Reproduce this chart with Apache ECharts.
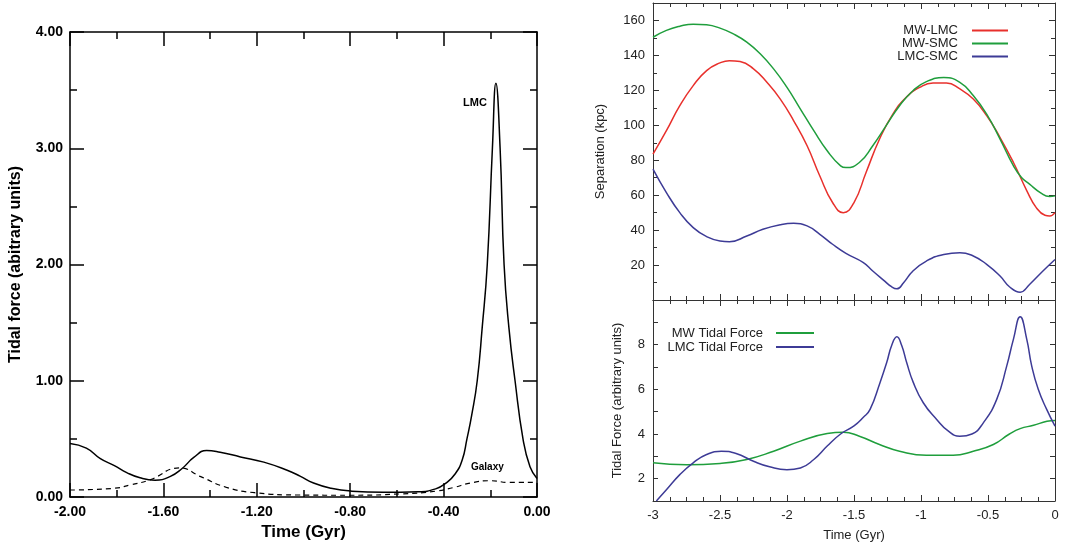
<!DOCTYPE html>
<html>
<head>
<meta charset="utf-8">
<script src="https://cdn.jsdelivr.net/npm/echarts@6/dist/echarts.min.js"></script>
<style>
html,body{margin:0;padding:0;background:#fff;}
#chart{width:1067px;height:546px;}
</style>
</head>
<body>
<div id="chart"></div>
<script>
// ---- Left panel: tidal force (arbitrary units) vs time (Gyr) ----
const lmcT = [-2.0,-1.93,-1.87,-1.81,-1.757,-1.70,-1.636,-1.572,-1.52,-1.47,-1.415,-1.357,-1.27,-1.17,-1.07,-1.015,-0.957,-0.882,-0.793,-0.658,-0.51,-0.434,-0.39,-0.35,-0.32,-0.30,-0.28,-0.256,-0.235,-0.213,-0.191,-0.176,-0.158,-0.141,-0.12,-0.094,-0.06,-0.03,0];
const lmcV = [0.46,0.42,0.33,0.27,0.21,0.165,0.145,0.175,0.245,0.34,0.40,0.385,0.345,0.30,0.23,0.18,0.12,0.075,0.05,0.04,0.045,0.07,0.12,0.2,0.32,0.5,0.7,1.0,1.45,2.0,3.0,3.56,3.0,2.0,1.45,1.0,0.5,0.26,0.16];
const galT = [-2.0,-1.81,-1.74,-1.66,-1.53,-1.44,-1.33,-1.21,-1.015,-0.808,-0.58,-0.434,-0.36,-0.285,-0.196,-0.12,0];
const galV = [0.06,0.075,0.105,0.146,0.25,0.175,0.083,0.037,0.017,0.015,0.027,0.05,0.08,0.12,0.14,0.125,0.125];

// ---- Right top: separation (kpc) ----
const mwLmcT = [-3.0,-2.9,-2.8,-2.7,-2.6,-2.5,-2.43,-2.35,-2.25,-2.15,-2.05,-1.95,-1.85,-1.755,-1.66,-1.58,-1.5,-1.41,-1.31,-1.21,-1.11,-1.01,-0.91,-0.81,-0.71,-0.61,-0.51,-0.41,-0.31,-0.21,-0.14,-0.075,-0.04,0];
const mwLmcV = [83.5,96.9,111.2,122.7,131.3,135.7,137,136.5,132.3,124.6,115,102.6,88.3,71,55.8,50,55.8,73,92,106.4,116,121.7,124.2,124.2,120.8,115,105.5,93,78.7,62.5,52.9,48.5,48.1,50];
const mwSmcT = [-3.0,-2.9,-2.8,-2.7,-2.6,-2.5,-2.4,-2.3,-2.2,-2.1,-2.0,-1.9,-1.8,-1.7,-1.6,-1.56,-1.46,-1.36,-1.26,-1.16,-1.06,-0.96,-0.83,-0.71,-0.61,-0.51,-0.41,-0.31,-0.25,-0.19,-0.11,-0.04,0];
const mwSmcV = [150.4,154.3,156.7,157.9,157.5,155.6,152.3,147.6,140.9,132.3,121.7,109.3,96.9,85.4,76.8,75.8,78.7,88.3,99.8,111.2,119.8,125,127.3,124.6,117,106.4,92.1,76.8,70.1,66.3,61.5,59.2,59.6];
const lmcSmcT = [-3.0,-2.9,-2.8,-2.7,-2.6,-2.5,-2.43,-2.3,-2.18,-2.05,-1.95,-1.85,-1.755,-1.66,-1.56,-1.43,-1.36,-1.28,-1.22,-1.18,-1.13,-1.06,-0.96,-0.83,-0.71,-0.61,-0.51,-0.41,-0.34,-0.26,-0.19,-0.09,0];
const lmcSmcV = [74.9,61.5,50,41.4,36.3,33.8,33.4,36.6,40.5,43.1,43.9,42.4,37.6,31.9,26.7,21.4,16.6,11.4,7.6,6.4,9.9,16.6,22.3,26.1,27.1,25.2,20.4,13.7,7.6,4.5,8.9,16.6,23.2];

// ---- Right bottom: tidal force (arbitrary units) ----
const mwTidT = [-3.0,-2.75,-2.5,-2.3,-2.1,-1.9,-1.7,-1.58,-1.46,-1.31,-1.16,-0.96,-0.76,-0.61,-0.46,-0.34,-0.26,-0.16,-0.06,0];
const mwTidV = [2.71,2.62,2.68,2.86,3.23,3.68,4.02,4.08,3.9,3.53,3.23,3.05,3.05,3.23,3.53,4.0,4.24,4.39,4.57,4.61];
const lmcTidT = [-2.975,-2.9,-2.8,-2.7,-2.6,-2.49,-2.38,-2.25,-2.13,-2.0,-1.9,-1.8,-1.7,-1.6,-1.5,-1.43,-1.38,-1.306,-1.256,-1.219,-1.18,-1.144,-1.107,-1.057,-0.983,-0.883,-0.8,-0.71,-0.62,-0.535,-0.435,-0.36,-0.31,-0.26,-0.211,-0.174,-0.125,-0.062,0];
const lmcTidV = [1.0,1.5,2.18,2.71,3.08,3.23,3.13,2.78,2.53,2.4,2.48,2.86,3.46,4.0,4.36,4.75,5.1,6.3,7.2,7.96,8.35,7.96,7.2,6.3,5.4,4.65,4.15,3.9,4.0,4.5,5.55,7.05,8.25,9.25,8.25,7.05,6.0,5.1,4.35];

const C_RED = '#e8302c', C_GREEN = '#1f9e3c', C_BLUE = '#3d3b96';
const pairs = (t, v) => t.map((x, i) => [x, v[i]]);

const chart = echarts.init(document.getElementById('chart'), null, {renderer: 'canvas'});

const leftFont = {fontFamily: 'Liberation Sans, Arial, sans-serif', color: '#000', fontWeight: 'bold'};
const rightFont = {fontFamily: 'Liberation Sans, Arial, sans-serif', color: '#222'};

function leftX(pos, showLabel) {
  return {
    type: 'value', gridIndex: 0, position: pos, min: -2, max: 0, interval: 0.4,
    axisLine: {show: true, onZero: false, lineStyle: {color: '#000', width: 1.5}},
    axisTick: {show: true, inside: true, length: 14, lineStyle: {color: '#000', width: 1.5}},
    minorTick: {show: true, splitNumber: 2, length: 7, lineStyle: {color: '#000', width: 1.5}},
    splitLine: {show: false},
    axisLabel: showLabel ? Object.assign({show: true, fontSize: 14, margin: 8, formatter: v => v.toFixed(2)}, leftFont) : {show: false},
    name: showLabel ? 'Time (Gyr)' : '', nameLocation: 'middle', nameGap: 26,
    nameTextStyle: Object.assign({fontSize: 17}, leftFont)
  };
}
function leftY(pos, showLabel) {
  return {
    type: 'value', gridIndex: 0, position: pos, min: 0, max: 4, interval: 1,
    axisLine: {show: true, onZero: false, lineStyle: {color: '#000', width: 1.5}},
    axisTick: {show: true, inside: true, length: 14, lineStyle: {color: '#000', width: 1.5}},
    minorTick: {show: true, splitNumber: 2, length: 7, lineStyle: {color: '#000', width: 1.5}},
    splitLine: {show: false},
    axisLabel: showLabel ? Object.assign({show: true, fontSize: 14, margin: 7, formatter: v => v.toFixed(2)}, leftFont) : {show: false},
    name: showLabel ? 'Tidal force (abitrary units)' : '', nameLocation: 'middle', nameGap: 46,
    nameTextStyle: Object.assign({fontSize: 16}, leftFont)
  };
}
function rightX(grid, pos, showLabel) {
  return {
    type: 'value', gridIndex: grid, position: pos, min: -3, max: 0, interval: 0.5,
    axisLine: {show: true, onZero: false, lineStyle: {color: '#333', width: 1}},
    axisTick: {show: true, inside: true, length: 6, lineStyle: {color: '#333', width: 1}},
    minorTick: {show: true, splitNumber: 4, length: 4, lineStyle: {color: '#333', width: 1}},
    splitLine: {show: false},
    axisLabel: showLabel ? Object.assign({show: true, fontSize: 13, margin: 8, formatter: v => String(v)}, rightFont) : {show: false},
    name: showLabel ? 'Time (Gyr)' : '', nameLocation: 'middle', nameGap: 28,
    nameTextStyle: Object.assign({fontSize: 13}, rightFont)
  };
}
function sepY(pos, showLabel) {
  return {
    type: 'value', gridIndex: 1, position: pos, min: 0, max: 170, interval: 20,
    axisLine: {show: true, onZero: false, lineStyle: {color: '#333', width: 1}},
    axisTick: {show: true, inside: true, length: 6, lineStyle: {color: '#333', width: 1}},
    minorTick: {show: true, splitNumber: 2, length: 4, lineStyle: {color: '#333', width: 1}},
    splitLine: {show: false},
    axisLabel: showLabel ? Object.assign({show: true, fontSize: 13, margin: 8,
      formatter: v => (v > 0 && v % 20 === 0) ? String(v) : ''}, rightFont) : {show: false},
    name: showLabel ? 'Separation (kpc)' : '', nameLocation: 'middle', nameGap: 46,
    nameTextStyle: Object.assign({fontSize: 13}, rightFont)
  };
}
function tidY(pos, showLabel) {
  return {
    type: 'value', gridIndex: 2, position: pos, min: 1, max: 10, interval: 1,
    axisLine: {show: true, onZero: false, lineStyle: {color: '#333', width: 1}},
    axisTick: {show: true, inside: true, length: 5, lineStyle: {color: '#333', width: 1}},
    splitLine: {show: false},
    axisLabel: showLabel ? Object.assign({show: true, fontSize: 13, margin: 8,
      formatter: v => (v % 2 === 0 && v < 10) ? String(v) : ''}, rightFont) : {show: false},
    name: showLabel ? 'Tidal Force (arbitrary units)' : '', nameLocation: 'middle', nameGap: 29,
    nameTextStyle: Object.assign({fontSize: 13}, rightFont)
  };
}
function lineSeries(name, xi, yi, t, v, color, width, type) {
  return {name: name, type: 'line', xAxisIndex: xi, yAxisIndex: yi, data: pairs(t, v),
    smooth: 0.5, showSymbol: false,
    lineStyle: {color: color, width: width, type: type || 'solid'}, itemStyle: {color: color}};
}

const option = {
  backgroundColor: '#fff',
  animation: false,
  grid: [
    {left: 70, top: 32, width: 467, height: 465},
    {left: 653, top: 3, width: 402, height: 297},
    {left: 653, top: 300, width: 402, height: 201}
  ],
  xAxis: [
    leftX('bottom', true), leftX('top', false),
    rightX(1, 'bottom', false), rightX(1, 'top', false),
    rightX(2, 'bottom', true), rightX(2, 'top', false)
  ],
  yAxis: [
    leftY('left', true), leftY('right', false),
    sepY('left', true), sepY('right', false),
    tidY('left', true), tidY('right', false)
  ],
  legend: [
    {
      data: ['MW-LMC', 'MW-SMC', 'LMC-SMC'], orient: 'vertical', align: 'right',
      right: 54, top: 19, itemWidth: 36, itemHeight: 2, itemGap: 0, icon: 'rect',
      selectedMode: false,
      textStyle: Object.assign({fontSize: 13, lineHeight: 13, padding: [0, 9, 0, 0]}, rightFont)
    },
    {
      data: ['MW Tidal Force', 'LMC Tidal Force'], orient: 'vertical', align: 'right',
      right: 248, top: 321, itemWidth: 38, itemHeight: 2, itemGap: 0, icon: 'rect',
      selectedMode: false,
      textStyle: Object.assign({fontSize: 13, lineHeight: 14, padding: [0, 8, 0, 0]}, rightFont)
    }
  ],
  graphic: [
    {type: 'text', left: 463, top: 97, style: {text: 'LMC', font: 'bold 11px Liberation Sans, Arial, sans-serif', fill: '#000'}},
    {type: 'text', left: 471, top: 462, style: {text: 'Galaxy', font: 'bold 10px Liberation Sans, Arial, sans-serif', fill: '#000'}}
  ],
  series: [
    lineSeries('LMC', 0, 0, lmcT, lmcV, '#000', 1.5),
    lineSeries('Galaxy', 0, 0, galT, galV, '#000', 1.2, [5, 4]),
    lineSeries('MW-LMC', 2, 2, mwLmcT, mwLmcV, C_RED, 1.5),
    lineSeries('MW-SMC', 2, 2, mwSmcT, mwSmcV, C_GREEN, 1.5),
    lineSeries('LMC-SMC', 2, 2, lmcSmcT, lmcSmcV, C_BLUE, 1.5),
    lineSeries('MW Tidal Force', 4, 4, mwTidT, mwTidV, C_GREEN, 1.5),
    lineSeries('LMC Tidal Force', 4, 4, lmcTidT, lmcTidV, C_BLUE, 1.5)
  ]
};
chart.setOption(option);
</script>
</body>
</html>
